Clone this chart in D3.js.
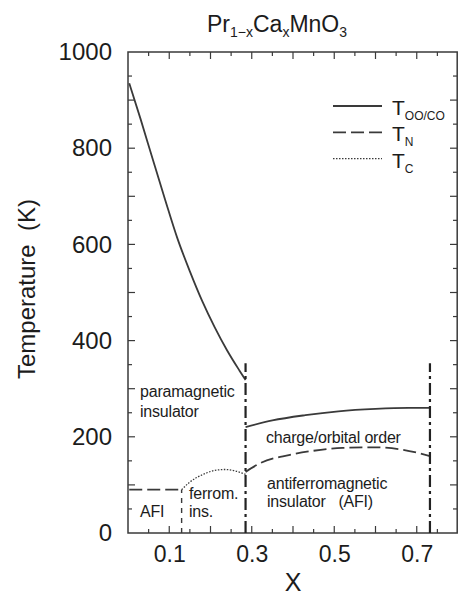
<!DOCTYPE html>
<html>
<head>
<meta charset="utf-8">
<script src="https://cdn.jsdelivr.net/npm/d3@7"></script>
<style>
  body { margin: 0; background: #fff; }
  svg { display: block; font-family: "Liberation Sans", Arial, Helvetica, sans-serif; }
  text { fill: #1c1c1c; }
</style>
</head>
<body>
<svg id="chart" width="458" height="597"></svg>
<script>
// T_OO/CO, low-x branch
var ooLowX = [0.003, 0.03, 0.06, 0.09, 0.12, 0.15, 0.18, 0.21, 0.24, 0.27, 0.285],
    ooLowT = [935, 862, 777, 693, 612, 544, 482, 428, 380, 338, 318];
// T_OO/CO, charge/orbital order branch
var ooHighX = [0.285, 0.35, 0.43, 0.51, 0.6, 0.68, 0.732],
    ooHighT = [220, 234, 245, 253, 258, 260, 260];
// T_N
var nLowX = [0.003, 0.13],
    nLowT = [90, 90];
var nHighX = [0.285, 0.32, 0.39, 0.45, 0.52, 0.6, 0.66, 0.732],
    nHighT = [127, 145, 162, 171, 177, 178, 174, 160];
// T_C
var cX = [0.13, 0.15, 0.18, 0.21, 0.235, 0.26, 0.285],
    cT = [90, 106, 121, 130, 132, 129, 122];
// phase boundaries
var boundaryX = [0.285, 0.732],
    boundaryTop = 353,
    ferroX = 0.13;

var xTicks = [0.1, 0.3, 0.5, 0.7],
    yTicks = [0, 200, 400, 600, 800, 1000];

var svg = d3.select('#chart');
var x = d3.scaleLinear().domain([0, 0.8]).range([128, 458]),
    y = d3.scaleLinear().domain([0, 1000]).range([533, 52]);

var ink = '#3a3a3a';

// frame
svg.append('rect')
    .attr('x', x(0)).attr('y', y(1000))
    .attr('width', x(0.8) - x(0) - 0.8).attr('height', y(0) - y(1000))
    .attr('fill', 'none').attr('stroke', ink).attr('stroke-width', 1.5);

// tick marks, all pointing inward
var xMinor = d3.range(0.05, 0.8, 0.05),
    yMinor = d3.range(50, 1000, 50);
function tickLen(v, step) { return Math.abs(v / step - Math.round(v / step)) < 1e-6 ? 7 : 4; }

var ticks = svg.append('g').attr('stroke', ink).attr('stroke-width', 1.2);
xMinor.forEach(function (v) {
    var L = tickLen(v, 0.1);
    ticks.append('line').attr('x1', x(v)).attr('x2', x(v)).attr('y1', y(0)).attr('y2', y(0) - L);
    ticks.append('line').attr('x1', x(v)).attr('x2', x(v)).attr('y1', y(1000)).attr('y2', y(1000) + L);
});
yMinor.forEach(function (v) {
    var L = tickLen(v, 100);
    ticks.append('line').attr('y1', y(v)).attr('y2', y(v)).attr('x1', x(0)).attr('x2', x(0) + L);
    ticks.append('line').attr('y1', y(v)).attr('y2', y(v)).attr('x1', x(0.8) - 1).attr('x2', x(0.8) - 1 - L);
});

// axis labels via d3 axes (no tick lines)
var xAxis = d3.axisBottom(x).tickValues(xTicks).tickFormat(d3.format('.1f')).tickSize(0).tickPadding(12);
var gx = svg.append('g').attr('transform', 'translate(0,' + y(0) + ')').call(xAxis);
gx.select('.domain').remove();
gx.selectAll('text').attr('font-size', 23).attr('fill', '#1c1c1c').attr('dy', '0.76em');

var yAxis = d3.axisLeft(y).tickValues(yTicks).tickFormat(d3.format('d')).tickSize(0).tickPadding(16);
var gy = svg.append('g').attr('transform', 'translate(' + x(0) + ',0)').call(yAxis);
gy.select('.domain').remove();
gy.selectAll('text').attr('font-size', 24).attr('fill', '#1c1c1c');
svg.selectAll('g').attr('font-family', null);

// axis titles
svg.append('text')
    .attr('x', 293).attr('y', 591)
    .attr('text-anchor', 'middle').attr('font-size', 25)
    .text('X');
svg.append('text')
    .attr('transform', 'translate(35,289) rotate(-90)')
    .attr('text-anchor', 'middle').attr('font-size', 24)
    .text('Temperature\u00a0\u00a0(K)');

// title
var title = svg.append('text').attr('x', 207).attr('y', 32).attr('font-size', 23);
title.append('tspan').text('Pr');
title.append('tspan').attr('font-size', 14).attr('dy', 5).text('1\u2212x');
title.append('tspan').attr('dy', -5).text('Ca');
title.append('tspan').attr('font-size', 14).attr('dy', 5).text('x');
title.append('tspan').attr('dy', -5).text('MnO');
title.append('tspan').attr('font-size', 14).attr('dy', 5).text('3');

// curves
var line = d3.line()
    .x(function (d) { return x(d[0]); })
    .y(function (d) { return y(d[1]); })
    .curve(d3.curveMonotoneX);

function draw(xs, ts, dash, w) {
    svg.append('path')
        .attr('d', line(d3.zip(xs, ts)))
        .attr('fill', 'none')
        .attr('stroke', ink)
        .attr('stroke-width', w)
        .attr('stroke-dasharray', dash);
}
draw(ooLowX, ooLowT, null, 1.8);
draw(ooHighX, ooHighT, null, 1.8);
draw(nLowX, nLowT, '13,5', 1.8);
draw(nHighX, nHighT, '13,5', 1.8);
draw(cX, cT, '1.5,1.5', 1.3);

// phase boundaries
boundaryX.forEach(function (b) {
    svg.append('line')
        .attr('x1', x(b)).attr('x2', x(b))
        .attr('y1', y(0)).attr('y2', y(boundaryTop))
        .attr('stroke', '#222').attr('stroke-width', 2.2)
        .attr('stroke-dasharray', '12,4,3,4');
});
svg.append('line')
    .attr('x1', x(ferroX)).attr('x2', x(ferroX))
    .attr('y1', y(0)).attr('y2', y(90))
    .attr('stroke', ink).attr('stroke-width', 1.4)
    .attr('stroke-dasharray', '5,5');

// region labels
var regionLabels = [
    ['paramagnetic', 140, 397],
    ['insulator', 140, 416.5],
    ['charge/orbital order', 266, 443],
    ['antiferromagnetic', 267, 489],
    ['insulator\u00a0\u00a0\u00a0(AFI)', 267, 507],
    ['AFI', 140, 516.5],
    ['ferrom.', 189, 499],
    ['ins.', 189, 516.5]
];
svg.append('g').selectAll('text').data(regionLabels).enter().append('text')
    .attr('x', function (d) { return d[1]; })
    .attr('y', function (d) { return d[2]; })
    .attr('font-size', 16)
    .attr('letter-spacing', -0.2)
    .text(function (d) { return d[0]; });

// legend
var legendItems = [
    { sub: 'OO/CO', dash: null, w: 1.8 },
    { sub: 'N', dash: '13,5', w: 1.8 },
    { sub: 'C', dash: '1.5,1.5', w: 1.3 }
];
var lg = svg.append('g');
legendItems.forEach(function (d, i) {
    var ly = 106 + i * 26.3;
    lg.append('line')
        .attr('x1', 333).attr('x2', 382).attr('y1', ly).attr('y2', ly)
        .attr('stroke', ink).attr('stroke-width', d.w).attr('stroke-dasharray', d.dash);
    var t = lg.append('text').attr('x', 392).attr('y', ly + 9).attr('font-size', 21);
    t.append('tspan').text('T');
    t.append('tspan').attr('font-size', 12).attr('dy', 5).text(d.sub);
});
</script>
</body>
</html>
